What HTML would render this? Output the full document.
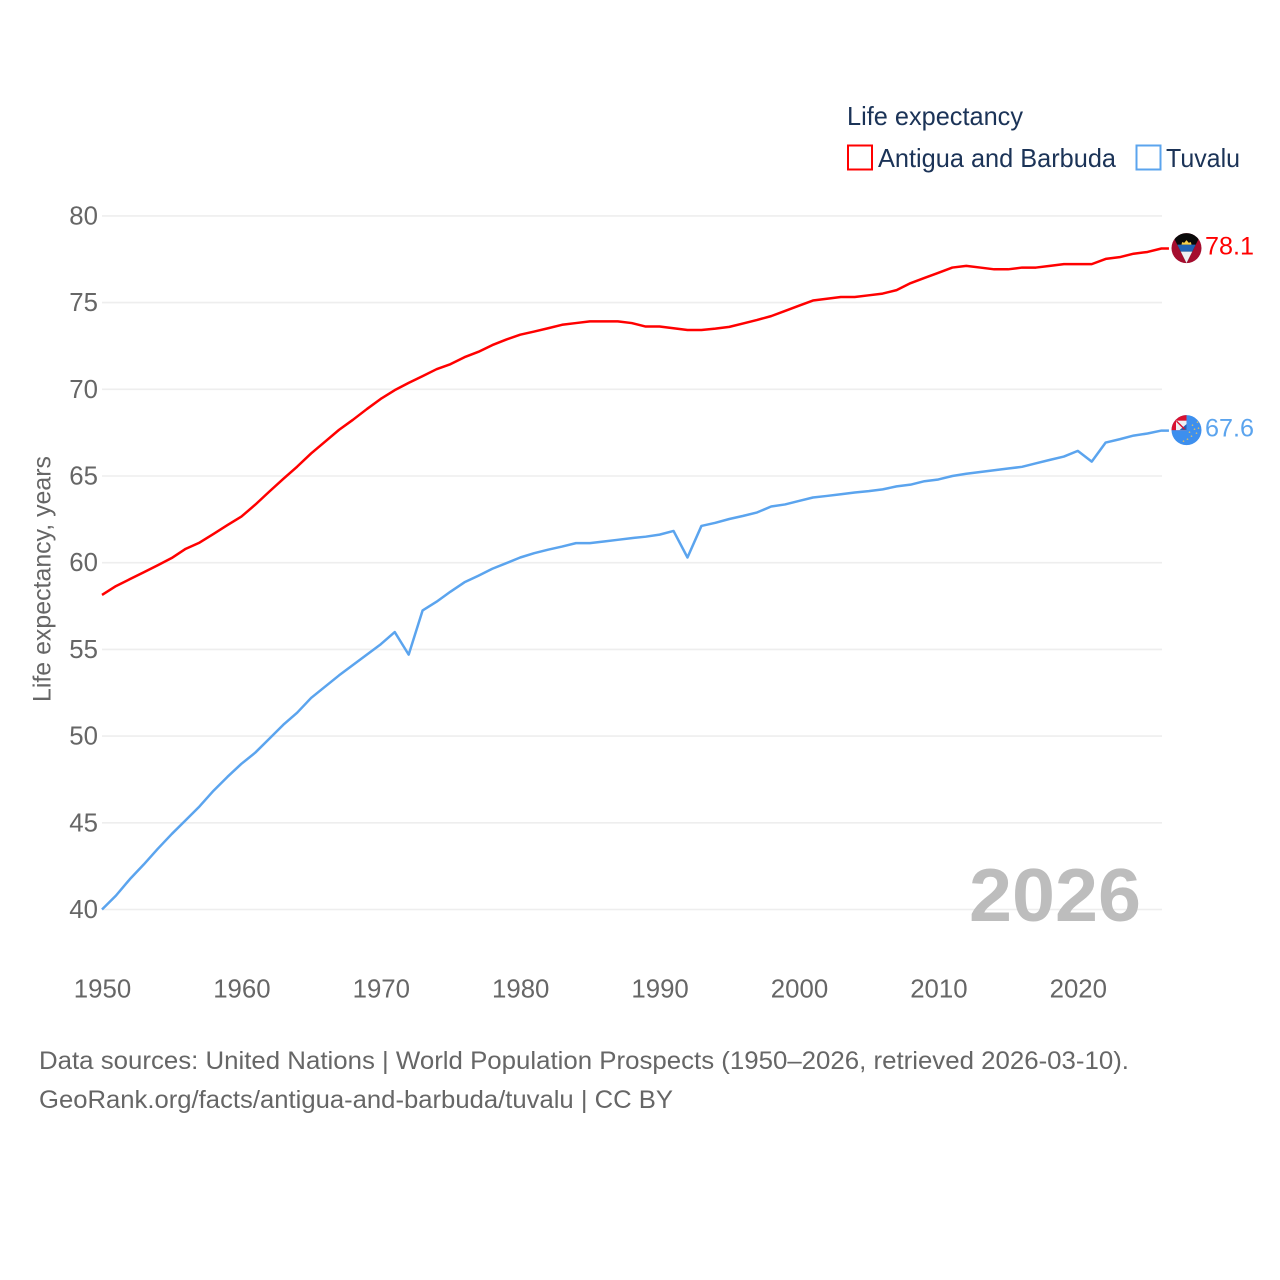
<!DOCTYPE html>
<html lang="en">
<head>
<meta charset="utf-8">
<title>Life expectancy: Antigua and Barbuda and Tuvalu</title>
<style>
html,body{margin:0;padding:0;background:#fff;}
svg{display:block;}
text{font-family:"Liberation Sans",sans-serif;}
</style>
</head>
<body>
<svg id="chart" xmlns="http://www.w3.org/2000/svg" width="1280" height="1280" viewBox="0 0 1280 1280">
  <defs>
    <clipPath id="flag-clip"><circle cx="0" cy="0" r="15"></circle></clipPath>
  </defs>
  <rect x="0" y="0" width="1280" height="1280" fill="#ffffff"></rect>

  <g id="grid"></g>
  <g id="y-ticks"></g>
  <g id="x-ticks"></g>

  <text transform="translate(50.5,702) rotate(-90)" font-size="25" fill="#666666" textLength="246" lengthAdjust="spacingAndGlyphs">Life expectancy, years</text>

  <text x="969" y="921" font-size="75" font-weight="bold" fill="#bdbdbd" textLength="172" lengthAdjust="spacingAndGlyphs">2026</text>

  <path id="line-antigua" fill="none" stroke="#ff0000" stroke-width="2.5" stroke-linejoin="round"></path>
  <path id="line-tuvalu" fill="none" stroke="#5ba4ee" stroke-width="2.5" stroke-linejoin="round"></path>

  <g id="flag-antigua">
    <g clip-path="url(#flag-clip)">
      <rect x="-16" y="-16" width="32" height="32" fill="#a50d2e"></rect>
      <polygon points="-15,-15 15,-15 0,15" fill="#0a0a0a"></polygon>
      <polygon points="-9.25,-3.5 9.25,-3.5 5.75,3.5 -5.75,3.5" fill="#1f63b5"></polygon>
      <polygon points="-5.75,3.5 5.75,3.5 0,15" fill="#eef0f2"></polygon>
      <polygon points="-5,-3.5 -4.4,-6 -2.2,-5.4 0,-8 2.2,-5.4 4.4,-6 5,-3.5" fill="#f6cf4a"></polygon>
    </g>
  </g>
  <g id="flag-tuvalu">
    <g clip-path="url(#flag-clip)">
      <rect x="-16" y="-16" width="32" height="32" fill="#3d8fee"></rect>
      <rect x="-16" y="-16" width="16" height="16" fill="#d9112f"></rect>
      <rect x="-10.5" y="-9.5" width="10.5" height="9.5" fill="#eef0f4"></rect>
      <polygon points="-7,0 0,0 0,-6" fill="#2a5fb0"></polygon>
      <line x1="-10" y1="-9" x2="-2" y2="-1" stroke="#d9112f" stroke-width="1.4"></line>
      <g fill="#d8bd6a">
        <circle cx="11" cy="-8" r="0.8"></circle><circle cx="6" cy="-5" r="0.8"></circle>
        <circle cx="12" cy="-2" r="0.8"></circle><circle cx="8" cy="-1" r="0.8"></circle>
        <circle cx="3" cy="2" r="0.8"></circle><circle cx="10" cy="3" r="0.8"></circle>
        <circle cx="5" cy="6" r="0.8"></circle><circle cx="1" cy="9" r="0.8"></circle>
        <circle cx="-3" cy="11" r="0.8"></circle>
      </g>
    </g>
  </g>
  <text id="value-antigua" x="1205" font-size="25" fill="#ff0000" textLength="49" lengthAdjust="spacingAndGlyphs"></text>
  <text id="value-tuvalu" x="1205" font-size="25" fill="#5ba4ee" textLength="49" lengthAdjust="spacingAndGlyphs"></text>

  <g>
    <text x="847" y="125" font-size="26" fill="#1b3357" textLength="176" lengthAdjust="spacingAndGlyphs">Life expectancy</text>
    <g>
      <rect x="848" y="145.5" width="24" height="24" fill="#ffffff" stroke="#ff0000" stroke-width="2"></rect>
      <text x="878" y="167" font-size="26" fill="#1b3357" textLength="238" lengthAdjust="spacingAndGlyphs">Antigua and Barbuda</text>
    </g>
    <g>
      <rect x="1136.5" y="145.5" width="24" height="24" fill="#ffffff" stroke="#5ba4ee" stroke-width="2"></rect>
      <text x="1166" y="167" font-size="26" fill="#1b3357" textLength="74" lengthAdjust="spacingAndGlyphs">Tuvalu</text>
    </g>
  </g>

  <text x="39" y="1069" font-size="25" fill="#666666" textLength="1090" lengthAdjust="spacingAndGlyphs">Data sources: United Nations | World Population Prospects (1950–2026, retrieved 2026-03-10).</text>
  <text x="39" y="1108" font-size="25" fill="#666666" textLength="634" lengthAdjust="spacingAndGlyphs">GeoRank.org/facts/antigua-and-barbuda/tuvalu | CC BY</text>
</svg>
<script>
const firstYear = 1950;
const yTickValues = [40, 45, 50, 55, 60, 65, 70, 75, 80];
const xTickValues = [1950, 1960, 1970, 1980, 1990, 2000, 2010, 2020];
const antiguaValues = [
  58.14, 58.65, 59.05, 59.45, 59.85, 60.27, 60.8, 61.16, 61.66, 62.17,
  62.66, 63.35, 64.1, 64.83, 65.54, 66.3, 66.98, 67.66, 68.24, 68.86,
  69.45, 69.95, 70.37, 70.76, 71.16, 71.45, 71.85, 72.16, 72.55, 72.87,
  73.15, 73.33, 73.52, 73.72, 73.82, 73.92, 73.92, 73.92, 73.82, 73.62,
  73.62, 73.52, 73.42, 73.42, 73.5, 73.6, 73.8, 74.0, 74.22, 74.52,
  74.82, 75.12, 75.22, 75.32, 75.32, 75.42, 75.52, 75.72, 76.12, 76.42,
  76.72, 77.02, 77.12, 77.02, 76.92, 76.92, 77.02, 77.02, 77.12, 77.22,
  77.22, 77.22, 77.52, 77.62, 77.82, 77.92, 78.12
];
const tuvaluValues = [
  40.0, 40.8, 41.75, 42.6, 43.5, 44.35, 45.15, 45.95, 46.85, 47.65,
  48.4, 49.05, 49.85, 50.65, 51.35, 52.2, 52.85, 53.5, 54.1, 54.7,
  55.3, 56.0, 54.7, 57.25, 57.75, 58.33, 58.87, 59.25, 59.65, 59.97,
  60.3, 60.55, 60.75, 60.93, 61.13, 61.13, 61.22, 61.32, 61.42, 61.5,
  61.62, 61.83, 60.3, 62.12, 62.3, 62.52, 62.7, 62.9, 63.24, 63.36,
  63.56, 63.76, 63.85, 63.95, 64.05, 64.13, 64.23, 64.4, 64.5, 64.7,
  64.8, 65.0, 65.13, 65.23, 65.33, 65.43, 65.53, 65.73, 65.93, 66.12,
  66.45, 65.83, 66.93, 67.12, 67.33, 67.45, 67.62
];
const antiguaLabel = "78.1";
const tuvaluLabel = "67.6";

const NS = "http://www.w3.org/2000/svg";
function xScale(year) { return 102 + (year - 1950) * 13.94; }
function yScale(value) { return 909.5 - (value - 40) * 17.34; }

const grid = document.getElementById("grid");
const yTicks = document.getElementById("y-ticks");
const xTicks = document.getElementById("x-ticks");

yTickValues.forEach(function (v) {
  const gridline = document.createElementNS(NS, "line");
  
  
  gridline.setAttribute("x1", 102);
  gridline.setAttribute("x2", 1162);
  gridline.setAttribute("y1", yScale(v));
  gridline.setAttribute("y2", yScale(v));
  gridline.setAttribute("stroke", "#eeeeee");
  gridline.setAttribute("stroke-width", "1.6");
  grid.appendChild(gridline);

  const label = document.createElementNS(NS, "text");
  
  
  label.setAttribute("x", 98);
  label.setAttribute("y", yScale(v) + 8.5);
  label.setAttribute("text-anchor", "end");
  label.setAttribute("font-size", "25.8");
  label.setAttribute("fill", "#666666");
  label.textContent = String(v);
  yTicks.appendChild(label);
});

xTickValues.forEach(function (year) {
  const label = document.createElementNS(NS, "text");
  
  
  label.setAttribute("x", xScale(year) + 0.5);
  label.setAttribute("y", 997.5);
  label.setAttribute("text-anchor", "middle");
  label.setAttribute("font-size", "25.8");
  label.setAttribute("fill", "#666666");
  label.textContent = String(year);
  xTicks.appendChild(label);
});

function linePath(values) {
  let d = "";
  values.forEach(function (v, i) {
    d += (i === 0 ? "M" : "L") + xScale(firstYear + i).toFixed(2) + " " + yScale(v).toFixed(2);
  });
  const last = values[values.length - 1];
  d += "L" + (xScale(firstYear + values.length - 1) + 7.5).toFixed(2) + " " + yScale(last).toFixed(2);
  return d;
}
document.getElementById("line-antigua").setAttribute("d", linePath(antiguaValues));
document.getElementById("line-tuvalu").setAttribute("d", linePath(tuvaluValues));

function placeEnd(values, flagId, labelId, text) {
  const last = values[values.length - 1];
  const endY = yScale(last);
  document.getElementById(flagId).setAttribute("transform", "translate(1186.5," + (endY - 0.4).toFixed(2) + ")");
  const valueLabel = document.getElementById(labelId);
  valueLabel.setAttribute("y", (endY + 6).toFixed(2));
  valueLabel.textContent = text;
}
placeEnd(antiguaValues, "flag-antigua", "value-antigua", antiguaLabel);
placeEnd(tuvaluValues, "flag-tuvalu", "value-tuvalu", tuvaluLabel);
</script>
</body>
</html>
